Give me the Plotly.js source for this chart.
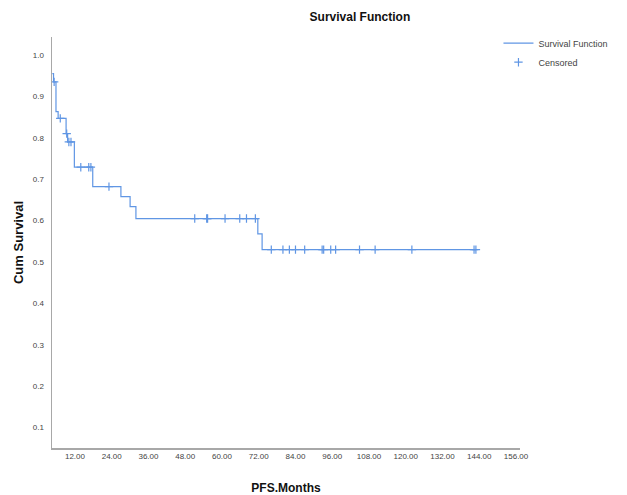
<!DOCTYPE html>
<html><head><meta charset="utf-8">
<script src="https://cdn.plot.ly/plotly-3.0.1.min.js"></script>
<style>html,body{margin:0;padding:0;background:#fff}#chart{width:627px;height:495px}</style>
</head><body><div id="chart"></div>
<script>
// Kaplan-Meier step curve (months, cumulative survival)
const stepTimes = [4.6, 5.0, 5.8, 6.5, 9.1, 9.6, 11.8, 17.8, 27.0, 30.0, 31.9, 71.7, 73.1, 142.9];
const stepSurv  = [0.955, 0.935, 0.863, 0.847, 0.81, 0.79, 0.729, 0.682, 0.658, 0.634, 0.605, 0.568, 0.53, 0.53];
// Censored observations
const censorTimes = [5.2, 7.2, 9.3, 10.0, 10.7, 13.9, 16.5, 17.2, 23.1,
  51.1, 55.0, 55.3, 61.0, 65.8, 68.0, 70.9,
  76.1, 79.9, 82.0, 84.0, 87.0, 92.7, 93.2, 95.5, 97.1, 104.9, 110.0, 122.0, 142.3, 142.9];
const censorSurv = [0.935, 0.847, 0.81, 0.79, 0.79, 0.729, 0.729, 0.729, 0.682,
  0.605, 0.605, 0.605, 0.605, 0.605, 0.605, 0.605,
  0.53, 0.53, 0.53, 0.53, 0.53, 0.53, 0.53, 0.53, 0.53, 0.53, 0.53, 0.53, 0.53, 0.53];
const xTicks = [12, 24, 36, 48, 60, 72, 84, 96, 108, 120, 132, 144, 156];
const yTicks = [0.1, 0.2, 0.3, 0.4, 0.5, 0.6, 0.7, 0.8, 0.9, 1.0];

const blue = 'rgb(96,150,228)';
const narrow = '"Liberation Sans Narrow", "Arial Narrow", "Liberation Sans", Arial, sans-serif';

const traces = [
  {x: stepTimes, y: stepSurv, type: 'scatter', mode: 'lines', name: 'Survival Function',
   line: {shape: 'hv', color: blue, width: 1.2}},
  {x: censorTimes, y: censorSurv, type: 'scatter', mode: 'markers', name: 'Censored',
   marker: {symbol: 'cross-thin', size: 6, line: {color: blue, width: 1.2}, color: blue}}
];

const layout = {
  width: 627, height: 495,
  margin: {l: 52, r: 107, t: 37, b: 47, autoexpand: false},
  paper_bgcolor: '#fff', plot_bgcolor: '#fff',
  font: {family: narrow, color: '#333'},
  title: {text: '<b>Survival Function</b>', font: {family: narrow, size: 12, color: '#111'},
          x: 0.574, xref: 'container', xanchor: 'center', y: 0.974, yref: 'container'},
  xaxis: {range: [4.5, 157.3], tickvals: xTicks, tickformat: '.2f', showgrid: false, zeroline: false,
          showline: true, linecolor: '#a8a8a8', linewidth: 1.5, ticks: '', tickfont: {size: 8, color: '#444'},
          title: {text: '<b>PFS.Months</b>', font: {family: narrow, size: 12, color: '#111'}, standoff: 24}},
  yaxis: {range: [0.0507, 1.0435], tickvals: yTicks, tickformat: '.1f', showgrid: false, zeroline: false,
          showline: true, linecolor: '#a8a8a8', linewidth: 1.5, ticks: '', tickfont: {size: 8, color: '#444'},
          ticklabelstandoff: 5,
          title: {text: '<b>Cum Survival</b>', font: {family: 'Liberation Sans, Arial, sans-serif', size: 13, color: '#111'}, standoff: 6}},
  legend: {x: 0.795, xref: 'container', xanchor: 'left', y: 0.942, yref: 'container', yanchor: 'top',
           font: {family: narrow, size: 9, color: '#444'},
           bgcolor: 'rgba(0,0,0,0)', tracegroupgap: 0, itemwidth: 30},
  showlegend: true
};
Plotly.newPlot('chart', traces, layout, {displayModeBar: false, staticPlot: true});
</script></body></html>
